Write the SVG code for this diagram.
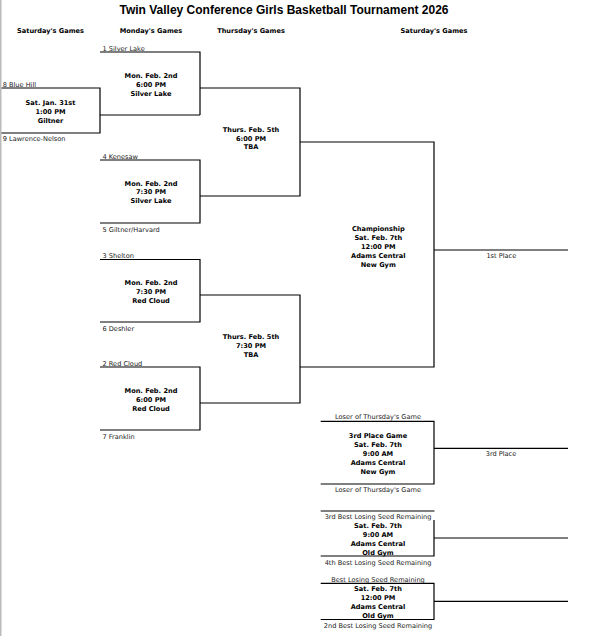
<svg xmlns="http://www.w3.org/2000/svg" width="598" height="636" viewBox="0 0 598 636">
<style>
.ln{fill:none;stroke:#000;stroke-width:1.2}
.t{font-family:"DejaVu Sans",Verdana,sans-serif;font-size:6.6px;fill:#222}
.b{font-family:"DejaVu Sans",Verdana,sans-serif;font-size:6.6px;font-weight:bold;fill:#000;text-anchor:middle}
.c{text-anchor:middle}
.title{font-family:"Liberation Sans",Arial,sans-serif;font-size:12px;font-weight:bold;fill:#000;text-anchor:middle}
</style>
<rect x="0" y="0" width="598" height="636" fill="#fff"/>
<rect x="0" y="0" width="1.5" height="636" fill="#bbb"/>
<text class="title" x="284" y="14">Twin Valley Conference Girls Basketball Tournament 2026</text>
<g id="headers">
<text class="b" x="50.5" y="33">Saturday's Games</text>
<text class="b" x="151" y="33">Monday's Games</text>
<text class="b" x="251" y="33">Thursday's Games</text>
<text class="b" x="434" y="33">Saturday's Games</text>
</g>
<g id="connectors">
<path class="ln" d="M1.5,88 H100 V133 H1.5"/>
<path class="ln" d="M100,115 H200"/>
<path class="ln" d="M100,52 H200 V115"/>
<path class="ln" d="M200,88 H300 V196 H200"/>
<path class="ln" d="M100,160 H200 V223 H100"/>
<path class="ln" d="M300,142 H434 V367 H300"/>
<path class="ln" d="M100,259.5 H200 V322 H100"/>
<path class="ln" d="M200,295 H300 V403 H200"/>
<path class="ln" d="M100,367 H200 V430 H100"/>
<path class="ln" d="M434,250 H568"/>
<path class="ln" d="M320.7,421.3 H434 V484 H320.7"/>
<path class="ln" d="M434,448.3 H568"/>
<path class="ln" d="M320.7,511 H434.5"/>
<path class="ln" d="M434,520 V556 H320.7"/>
<path class="ln" d="M434,538 H568"/>
<path class="ln" d="M320.7,583.3 H434 V619.5 H320.7"/>
<path class="ln" d="M434,601.4 H568"/>
</g>
<g id="game-sat-jan31">
<text class="t" x="2.7" y="87">8 Blue Hill</text>
<text class="b" x="50.5" y="105">Sat. Jan. 31st</text>
<text class="b" x="50.5" y="113.5">1:00 PM</text>
<text class="b" x="50.5" y="122.5">Giltner</text>
<text class="t" x="2.7" y="140.5">9 Lawrence-Nelson</text>
</g>
<g id="game-mon-1">
<text class="t" x="102.5" y="50.5">1 Silver Lake</text>
<text class="b" x="151" y="78">Mon. Feb. 2nd</text>
<text class="b" x="151" y="86.8">6:00 PM</text>
<text class="b" x="151" y="96">Silver Lake</text>
</g>
<g id="game-mon-2">
<text class="t" x="102.5" y="158.5">4 Kenesaw</text>
<text class="b" x="151" y="185.5">Mon. Feb. 2nd</text>
<text class="b" x="151" y="194">7:30 PM</text>
<text class="b" x="151" y="203">Silver Lake</text>
<text class="t" x="102.5" y="231.5">5 Giltner/Harvard</text>
</g>
<g id="game-mon-3">
<text class="t" x="102.5" y="257.5">3 Shelton</text>
<text class="b" x="151" y="285">Mon. Feb. 2nd</text>
<text class="b" x="151" y="294">7:30 PM</text>
<text class="b" x="151" y="303">Red Cloud</text>
<text class="t" x="102.5" y="330.5">6 Deshler</text>
</g>
<g id="game-mon-4">
<text class="t" x="102.5" y="365.5">2 Red Cloud</text>
<text class="b" x="151" y="393">Mon. Feb. 2nd</text>
<text class="b" x="151" y="401.5">6:00 PM</text>
<text class="b" x="151" y="410.5">Red Cloud</text>
<text class="t" x="102.5" y="438.5">7 Franklin</text>
</g>
<g id="game-thu-1">
<text class="b" x="251" y="131.5">Thurs. Feb. 5th</text>
<text class="b" x="251" y="140.5">6:00 PM</text>
<text class="b" x="251" y="149">TBA</text>
</g>
<g id="game-thu-2">
<text class="b" x="251" y="339">Thurs. Feb. 5th</text>
<text class="b" x="251" y="348">7:30 PM</text>
<text class="b" x="251" y="357">TBA</text>
</g>
<g id="game-championship">
<text class="b" x="378.3" y="230.5">Championship</text>
<text class="b" x="378.3" y="239.5">Sat. Feb. 7th</text>
<text class="b" x="378.3" y="248.5">12:00 PM</text>
<text class="b" x="378.3" y="257.5">Adams Central</text>
<text class="b" x="378.3" y="266.5">New Gym</text>
<text class="t c" x="501.3" y="258">1st Place</text>
</g>
<g id="game-third-place">
<text class="t c" x="378" y="419">Loser of Thursday's Game</text>
<text class="b" x="378" y="437.5">3rd Place Game</text>
<text class="b" x="378" y="446.5">Sat. Feb. 7th</text>
<text class="b" x="378" y="455.5">9:00 AM</text>
<text class="b" x="378" y="464.5">Adams Central</text>
<text class="b" x="378" y="473.5">New Gym</text>
<text class="t c" x="378" y="491.5">Loser of Thursday's Game</text>
<text class="t c" x="501" y="455.5">3rd Place</text>
</g>
<g id="game-consolation-1">
<text class="t c" x="378" y="519">3rd Best Losing Seed Remaining</text>
<text class="b" x="378" y="528">Sat. Feb. 7th</text>
<text class="b" x="378" y="537">9:00 AM</text>
<text class="b" x="378" y="546">Adams Central</text>
<text class="b" x="378" y="555">Old Gym</text>
<text class="t c" x="378" y="564.5">4th Best Losing Seed Remaining</text>
</g>
<g id="game-consolation-2">
<text class="t c" x="378" y="581.5">Best Losing Seed Remaining</text>
<text class="b" x="378" y="591.3">Sat. Feb. 7th</text>
<text class="b" x="378" y="600">12:00 PM</text>
<text class="b" x="378" y="609">Adams Central</text>
<text class="b" x="378" y="618">Old Gym</text>
<text class="t c" x="378" y="627.5">2nd Best Losing Seed Remaining</text>
</g>
</svg>
